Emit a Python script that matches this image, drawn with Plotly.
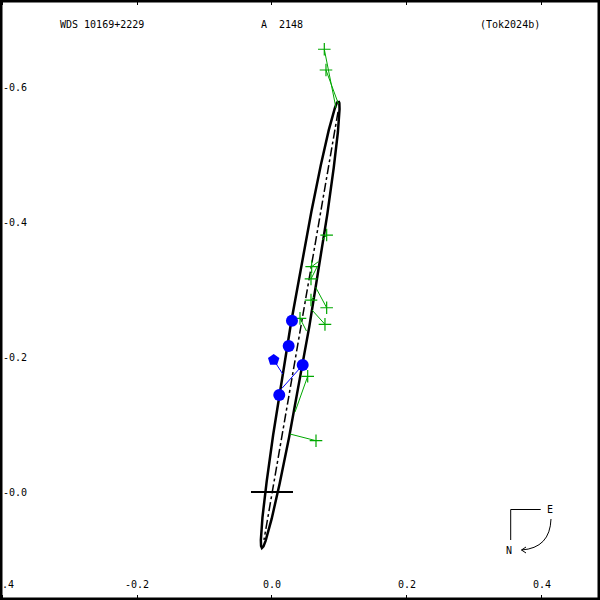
import plotly.graph_objects as go

# ---------------- data (arcsec offsets) ----------------
orbit_x = [0.0985, 0.0998, 0.1001, 0.0977, 0.0915, 0.0820, 0.0554, 0.0252, 0.0113, -0.0005,
           -0.0095, -0.0126, -0.0149, -0.0162, -0.0165, -0.0141, -0.0079, 0.0017, 0.0282,
           0.0584, 0.0723, 0.0841, 0.0931, 0.0962, 0.0985]
orbit_y = [-0.5793, -0.5762, -0.5674, -0.5337, -0.4807, -0.4117, -0.2458, -0.0805, -0.0123, 0.0399,
           0.0724, 0.0806, 0.0831, 0.0800, 0.0712, 0.0375, -0.0155, -0.0845, -0.2504,
           -0.4157, -0.4839, -0.5361, -0.5686, -0.5768, -0.5793]

nodes_x = [0.0978, -0.0119]
nodes_y = [-0.563, 0.0711]

green_obs_x = [0.0775, 0.0800, 0.0810, 0.0588, 0.0578, 0.0578, 0.0810, 0.0785, 0.0415, 0.0529, 0.0652]
green_obs_y = [-0.6559, -0.6252, -0.3807, -0.3338, -0.3156, -0.2844, -0.2730, -0.2484, -0.2573, -0.1714, -0.0760]
green_pred_x = [0.0948, 0.0985, 0.0745, 0.0686, 0.0674, 0.0622, 0.0647, 0.0593, 0.0511, 0.0341, 0.0267]
green_pred_y = [-0.5689, -0.5748, -0.3733, -0.3412, -0.3348, -0.2889, -0.3033, -0.2696, -0.2385, -0.1185, -0.0859]

blue_obs_x = [0.0296, 0.0247, 0.0025, 0.0455, 0.0108]
blue_obs_y = [-0.2538, -0.2163, -0.1956, -0.1881, -0.1437]
blue_pred_x = [0.0296, 0.0247, 0.0159, 0.0148, 0.0108]
blue_pred_y = [-0.2538, -0.2163, -0.1748, -0.1536, -0.1437]
blue_symbols = ["circle", "circle", "pentagon", "circle", "circle"]

x_tickvals = [-0.4, -0.2, 0.0, 0.2, 0.4]
x_ticktext = ["-0.4", "-0.2", "0.0", "0.2", "0.4"]
y_tickvals = [-0.6, -0.4, -0.2, 0.0]
y_ticktext = ["-0.6", "-0.4", "-0.2", "-0.0"]

title_left = "WDS 10169+2229"
title_mid = "A  2148"
title_right = "(Tok2024b)"

GREEN = "#00a800"
BLUE = "#0000ff"
FONT = dict(family="DejaVu Sans Mono", size=10, color="black")


def segments(x0, y0, x1, y1):
    xs, ys = [], []
    for a, b, c, d in zip(x0, y0, x1, y1):
        xs += [a, c, None]
        ys += [b, d, None]
    return xs, ys


fig = go.Figure()

# orbit ellipse
fig.add_trace(go.Scatter(x=orbit_x, y=orbit_y, mode="lines",
                         line=dict(color="black", width=2.5), hoverinfo="skip"))
# line of nodes
fig.add_trace(go.Scatter(x=nodes_x, y=nodes_y, mode="lines",
                         line=dict(color="black", width=1.5, dash="dashdot"), hoverinfo="skip"))
# green O-C lines
gx, gy = segments(green_obs_x, green_obs_y, green_pred_x, green_pred_y)
fig.add_trace(go.Scatter(x=gx, y=gy, mode="lines", line=dict(color=GREEN, width=1), hoverinfo="skip"))
fig.add_trace(go.Scatter(x=green_obs_x, y=green_obs_y, mode="markers",
                         marker=dict(symbol="cross-thin", size=9, line=dict(color=GREEN, width=1.2))))
# blue O-C lines
bx, by = segments(blue_obs_x, blue_obs_y, blue_pred_x, blue_pred_y)
fig.add_trace(go.Scatter(x=bx, y=by, mode="lines", line=dict(color=BLUE, width=1), hoverinfo="skip"))
fig.add_trace(go.Scatter(x=blue_obs_x, y=blue_obs_y, mode="markers",
                         marker=dict(symbol=blue_symbols, size=12, color=BLUE,
                                     line=dict(color=BLUE, width=0))))
# primary
fig.add_trace(go.Scatter(x=[0.0], y=[0.0], mode="markers",
                         marker=dict(symbol="line-ew", size=30, line=dict(color="black", width=2))))

fig.update_layout(
    width=600, height=600,
    margin=dict(l=0, r=0, t=0, b=0, pad=0, autoexpand=False),
    paper_bgcolor="white", plot_bgcolor="white",
    showlegend=False,
    font=FONT,
    xaxis=dict(range=[-0.403, 0.486], showgrid=False, zeroline=False, showline=False,
               tickvals=x_tickvals, ticktext=x_ticktext, ticks="inside", ticklen=5,
               tickcolor="black", tickwidth=1, mirror="ticks",
               ticklabelposition="inside", ticklabeloverflow="allow",
               ticklabelstandoff=4, tickfont=FONT),
    yaxis=dict(range=[0.16, -0.7289], showgrid=False, zeroline=False, showline=False,
               tickvals=y_tickvals, ticktext=y_ticktext, ticks="", ticklen=0,
               ticklabelposition="inside", ticklabeloverflow="allow", tickfont=FONT),
    shapes=[
        dict(type="rect", xref="paper", yref="paper", x0=0, y0=0, x1=1, y1=1,
             line=dict(color="black", width=5)),
        # compass
        dict(type="line", xref="paper", yref="paper", x0=510.7/600, y0=1-509.5/600,
             x1=540.7/600, y1=1-509.5/600, line=dict(color="black", width=1)),
        dict(type="line", xref="paper", yref="paper", x0=510.7/600, y0=1-509.5/600,
             x1=510.7/600, y1=1-540/600, line=dict(color="black", width=1)),
        dict(type="path", xref="paper", yref="paper",
             path=f"M {551/600},{1-519/600} Q {550/600},{1-548/600} {521.5/600},{1-550/600}",
             line=dict(color="black", width=1)),
        dict(type="line", xref="paper", yref="paper", x0=521.5/600, y0=1-550/600,
             x1=526/600, y1=1-547/600, line=dict(color="black", width=1)),
        dict(type="line", xref="paper", yref="paper", x0=521.5/600, y0=1-550/600,
             x1=526/600, y1=1-553/600, line=dict(color="black", width=1)),
    ],
    annotations=[
        dict(text=title_left, x=101.5/600, y=1-25/600, xref="paper", yref="paper",
             showarrow=False, xanchor="center", yanchor="middle", font=FONT),
        dict(text=title_mid, x=282/600, y=1-25/600, xref="paper", yref="paper",
             showarrow=False, xanchor="center", yanchor="middle", font=FONT),
        dict(text=title_right, x=510/600, y=1-25/600, xref="paper", yref="paper",
             showarrow=False, xanchor="center", yanchor="middle", font=FONT),
        dict(text="E", x=550/600, y=1-509.5/600, xref="paper", yref="paper",
             showarrow=False, xanchor="center", yanchor="middle", font=FONT),
        dict(text="N", x=508.5/600, y=1-550/600, xref="paper", yref="paper",
             showarrow=False, xanchor="center", yanchor="middle", font=FONT),
    ],
)

fig.write_html("out.html", config={"displayModeBar": False},
               post_script="document.body.style.margin='0';document.body.style.overflow='hidden';")
